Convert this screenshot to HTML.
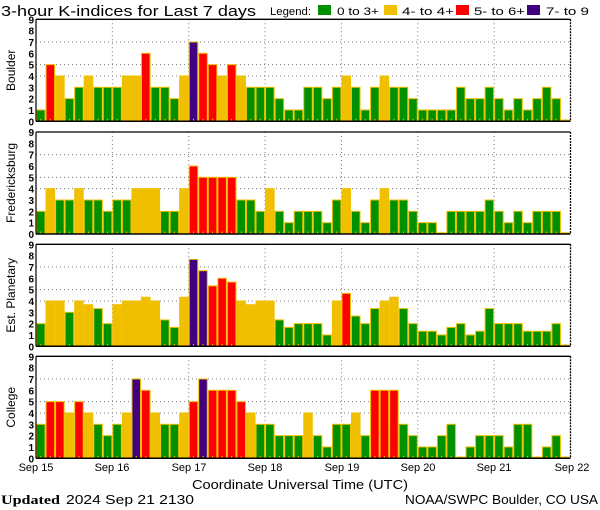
<!DOCTYPE html>
<html><head><meta charset="utf-8"><style>
html,body{margin:0;padding:0;background:#fff;width:600px;height:510px;overflow:hidden}
svg{display:block;font-family:"Liberation Sans",sans-serif}
</style></head><body>
<svg id="s" width="600" height="510" viewBox="0 0 600 510" xmlns="http://www.w3.org/2000/svg">
<text x="1" y="16" font-size="15" textLength="255" lengthAdjust="spacingAndGlyphs">3-hour K-indices for Last 7 days</text>
<text x="270" y="15" font-size="11" textLength="41" lengthAdjust="spacingAndGlyphs">Legend:</text>
<rect x="318" y="5" width="13" height="10" fill="#009000"/>
<text x="337" y="15" font-size="11" textLength="42" lengthAdjust="spacingAndGlyphs">0 to 3+</text>
<rect x="384" y="5" width="13" height="10" fill="#f0c000"/>
<text x="402" y="15" font-size="11" textLength="52" lengthAdjust="spacingAndGlyphs">4- to 4+</text>
<rect x="456" y="5" width="13" height="10" fill="#ff0000"/>
<text x="474" y="15" font-size="11" textLength="51" lengthAdjust="spacingAndGlyphs">5- to 6+</text>
<rect x="527" y="5" width="13" height="10" fill="#400080"/>
<text x="546" y="15" font-size="11" textLength="43" lengthAdjust="spacingAndGlyphs">7- to 9</text>
<g font-size="11">
<text x="36" y="471" text-anchor="middle">Sep 15</text>
<text x="112" y="471" text-anchor="middle">Sep 16</text>
<text x="189" y="471" text-anchor="middle">Sep 17</text>
<text x="265" y="471" text-anchor="middle">Sep 18</text>
<text x="342" y="471" text-anchor="middle">Sep 19</text>
<text x="418" y="471" text-anchor="middle">Sep 20</text>
<text x="494" y="471" text-anchor="middle">Sep 21</text>
<text x="572" y="471" text-anchor="middle">Sep 22</text>
</g>
<text x="192" y="489" font-size="13" textLength="216" lengthAdjust="spacingAndGlyphs">Coordinate Universal Time (UTC)</text>
<text x="1" y="504" font-size="13" font-family="Liberation Serif,serif" font-weight="bold" textLength="59" lengthAdjust="spacingAndGlyphs">Updated</text>
<text x="66" y="504" font-size="13" textLength="128" lengthAdjust="spacingAndGlyphs">2024 Sep 21 2130</text>
<text x="405" y="504" font-size="13" textLength="193" lengthAdjust="spacingAndGlyphs">NOAA/SWPC Boulder, CO USA</text>
<g id="g"></g>
</svg>
<script>
var D=[
["Boulder",19.3,[1,5,4,2,3,4,3,3,3,4,4,6,3,3,2,4,7,6,5,4,5,4,3,3,3,2,1,1,3,3,2,3,4,3,1,3,4,3,3,2,1,1,1,1,3,2,2,3,2,1,2,1,2,3,2,0]],
["Fredericksburg",132,[2,4,3,3,4,3,3,2,3,3,4,4,4,2,2,4,6,5,5,5,5,3,3,2,4,2,1,2,2,2,1,3,4,2,1,3,4,3,3,2,1,1,0,2,2,2,2,3,2,1,2,1,2,2,2,0]],
["Est. Planetary",244.3,[2,4,4,3,4,3.67,3.33,2,3.67,4,4,4.33,4,2.33,1.67,4.33,7.67,6.67,5.33,6,5.67,4,3.67,4,4,2.33,1.67,2,2,2,1,4,4.67,2.67,2,3.33,4,4.33,3.33,2,1.33,1.33,1,1.67,2,1,1.33,3.33,2,2,2,1.33,1.33,1.33,2,0]],
["College",356.3,[3,5,5,4,5,4,3,2,3,4,7,6,4,3,3,4,5,7,6,6,6,5,4,3,3,2,2,2,4,2,1,3,3,4,2,6,6,6,3,2,1,1,2,3,0,1,2,2,2,1,3,3,0,1,2,0]]];
var x0=36,x1=570.5,H=102,u=H/9,bw=(x1-x0)/56,h='';
function col(v){return v>=6.6?'#400080':v>=4.6?'#ff0000':v>=3.6?'#f0c000':'#009000';}
D.forEach(function(p){
 var t=p[1],b=t+H;
 // grid
 [4,5,7].forEach(function(k){var y=b-k*u;h+='<line x1="'+x0+'" x2="'+x1+'" y1="'+y+'" y2="'+y+'" stroke="#777" stroke-dasharray="1,3"/>';});
 for(var d=1;d<7;d++){var x=x0+d*8*bw;h+='<line x1="'+x+'" x2="'+x+'" y1="'+t+'" y2="'+b+'" stroke="#777" stroke-dasharray="1,3"/>';}
 p[2].forEach(function(v,i){
  var x=x0+i*bw,hh=Math.max(v*u,1.2);
  h+='<rect x="'+(x+0.5)+'" y="'+(b-hh)+'" width="'+(bw-1)+'" height="'+hh+'" fill="'+col(v)+'" stroke="#f0c000" stroke-width="1"/>';
  h+='<rect x="'+(x+bw/2-0.5)+'" y="'+(b-2.5)+'" width="1" height="2.5" fill="#f0c000"/>';
 });
 h+='<line x1="'+x0+'" x2="'+x1+'" y1="'+t+'" y2="'+t+'" stroke="#000" stroke-width="1.3"/>';
 h+='<line x1="'+x0+'" x2="'+x1+'" y1="'+b+'" y2="'+b+'" stroke="#000" stroke-width="1.5"/>';
 h+='<line x1="'+x0+'" x2="'+x0+'" y1="'+t+'" y2="'+b+'" stroke="#000" stroke-width="1.2"/>';
 h+='<line x1="'+x1+'" x2="'+x1+'" y1="'+t+'" y2="'+b+'" stroke="#000" stroke-width="1.3" stroke-dasharray="2,1"/>';
 for(var k=0;k<=9;k++){h+='<text x="34" y="'+(b-k*u+4)+'" font-size="10" font-weight="bold" text-anchor="end">'+k+'</text>';}
 var cy=t+H/2;
 h+='<text transform="translate(15,'+cy+') rotate(-90)" font-size="12" text-anchor="middle">'+p[0]+'</text>';
});
document.getElementById('g').innerHTML=h;
</script>
</body></html>
